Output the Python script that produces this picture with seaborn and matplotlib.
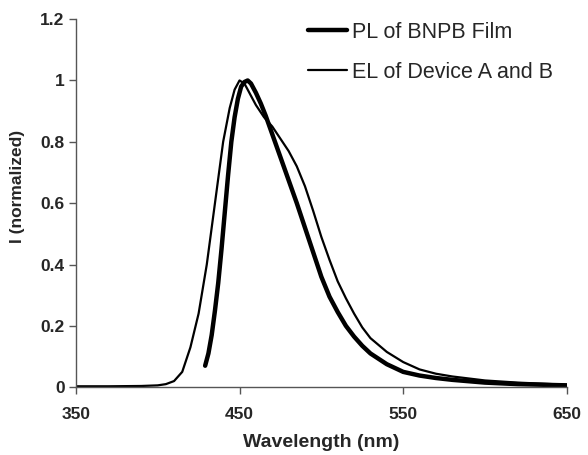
import pandas as pd
import matplotlib
matplotlib.use("Agg")
import matplotlib.pyplot as plt
import seaborn as sns

# PL of BNPB Film (thick line)
pl_wl = [429, 431, 433, 435, 437, 439, 441, 443, 445, 447, 449, 451, 453, 455, 457,
         460, 463, 466, 470, 475, 480, 485, 490, 495, 500, 505, 510, 515, 520, 525, 530,
         540, 550, 560, 570, 580, 600, 620, 650]
pl_int = [0.07, 0.11, 0.17, 0.25, 0.34, 0.45, 0.57, 0.69, 0.80, 0.88, 0.94, 0.98, 0.995, 1.0, 0.99,
          0.96, 0.925, 0.885, 0.825, 0.75, 0.675, 0.6, 0.52, 0.44, 0.36, 0.295, 0.245, 0.20, 0.165, 0.135, 0.11,
          0.075, 0.05, 0.038, 0.03, 0.024, 0.015, 0.01, 0.006]

# EL of Device A and B (thin line)
el_wl = [350, 370, 390, 400, 405, 410, 415, 420, 425, 430, 435, 440, 444, 447, 450,
         453, 456, 460, 465, 470, 475, 480, 485, 490, 495, 500, 505, 510, 515, 520,
         525, 530, 540, 550, 560, 570, 580, 600, 620, 650]
el_int = [0.003, 0.003, 0.004, 0.006, 0.01, 0.02, 0.05, 0.13, 0.24, 0.40, 0.60, 0.80, 0.91, 0.97, 1.0,
          0.99, 0.96, 0.92, 0.88, 0.85, 0.81, 0.77, 0.72, 0.655, 0.575, 0.49, 0.415, 0.345, 0.29, 0.24,
          0.195, 0.16, 0.115, 0.082, 0.058, 0.044, 0.035, 0.022, 0.015, 0.008]

sns.set_style("ticks")
plt.rcParams['font.family'] = ['Liberation Sans', 'DejaVu Sans']

fig = plt.figure(figsize=(5.88, 4.55), dpi=100)
ax = fig.add_axes([0.129, 0.149, 0.835, 0.809])

sns.lineplot(x=pl_wl, y=pl_int, ax=ax, color='black', linewidth=3.2, label='PL of BNPB Film',
             solid_capstyle='round')
sns.lineplot(x=el_wl, y=el_int, ax=ax, color='black', linewidth=1.6, label='EL of Device A and B')

ax.set_xlim(350, 650)
ax.set_ylim(0, 1.2)
ax.set_xticks([350, 450, 550, 650])
ax.set_yticks([0, 0.2, 0.4, 0.6, 0.8, 1.0, 1.2])
ax.set_yticklabels(['0', '0.2', '0.4', '0.6', '0.8', '1', '1.2'])
for lab in ax.get_xticklabels() + ax.get_yticklabels():
    lab.set_fontweight('bold')
    lab.set_fontsize(12.5)
ax.tick_params(axis='x', direction='out', length=5, width=1, pad=9, color='#555555')
ax.tick_params(axis='y', direction='out', length=5, width=1, pad=3, color='#555555')
for s in ['left', 'bottom']:
    ax.spines[s].set_color('#555555')
    ax.spines[s].set_linewidth(1)
sns.despine(ax=ax)

ax.set_xlabel('Wavelength (nm)', fontsize=14, fontweight='bold', labelpad=9)
ax.set_ylabel('I (normalized)', fontsize=12.5, fontweight='bold')
ax.yaxis.set_label_coords(-0.104, 0.545)

ax.legend(loc='upper left', bbox_to_anchor=(0.491, 0.995), bbox_transform=fig.transFigure,
          frameon=False, fontsize=15.5, handlelength=1.8, handletextpad=0.25, labelspacing=0.9)

plt.savefig('out.png', dpi=100)
